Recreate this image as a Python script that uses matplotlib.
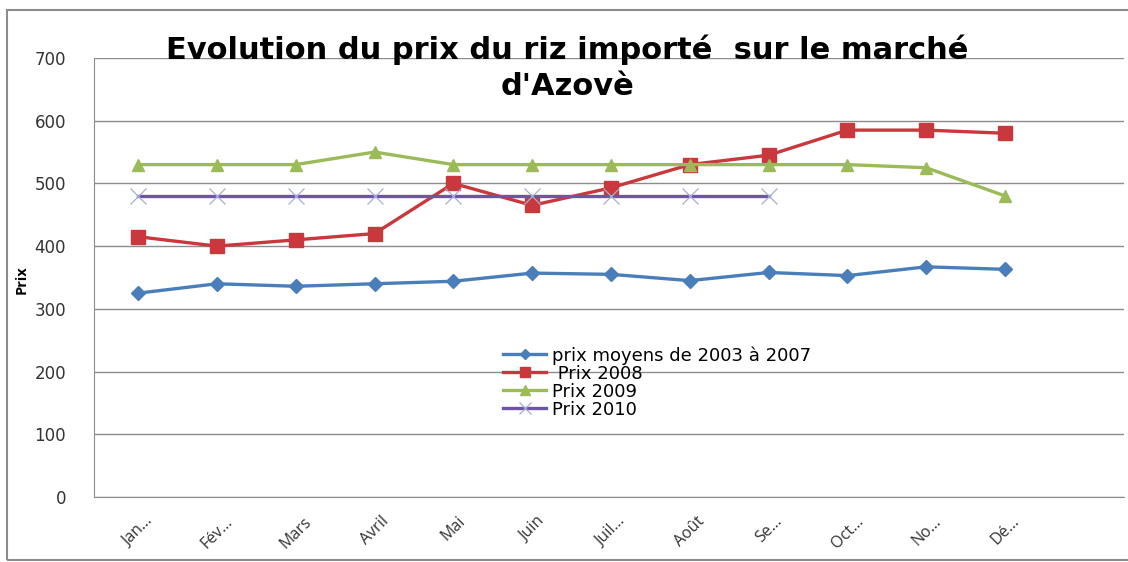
import matplotlib.pyplot as plt
from matplotlib.patches import Rectangle

# data
mois = ["Jan…", "Fév…", "Mars", "Avril", "Mai", "Juin", "Juil…", "Août", "Se…", "Oct…", "No…", "Dé…"]
prix_moyens = [325, 340, 336, 340, 344, 357, 355, 345, 358, 353, 367, 363]
prix_2008 = [415, 400, 410, 420, 500, 465, 493, 530, 545, 585, 585, 580]
prix_2009 = [530, 530, 530, 550, 530, 530, 530, 530, 530, 530, 525, 480]
prix_2010 = [480, 480, 480, 480, 480, 480, 480, 480, 480]

plt.rcParams['font.family'] = ['Open Sans', 'DejaVu Sans']

fig = plt.figure(figsize=(11.28, 5.62), dpi=100)
ax = fig.add_axes([0.0833, 0.1157, 0.9132, 0.7811])

x = list(range(len(mois)))
ax.plot(x, prix_moyens, color='#4A7EBB', lw=2.4, marker='D', ms=7, label='prix moyens de 2003 à 2007')
ax.plot(x, prix_2008, color='#C8383C', lw=2.4, marker='s', ms=10, label=' Prix 2008')
ax.plot(x, prix_2009, color='#9BBB59', lw=2.4, marker='^', ms=9, label='Prix 2009')
ax.plot(x[:len(prix_2010)], prix_2010, color='#6E54A8', lw=2.4, marker='x', ms=11,
        mec='#A8AED0', mew=0.9, label='Prix 2010')

ax.set_ylim(0, 700)
ax.set_yticks(range(0, 701, 100))
ax.set_xlim(-0.56, 12.51)
ax.set_xticks(x)
ax.set_xticklabels(mois, rotation=45, ha='center', fontsize=11.5, color='#333333')
for t in ax.get_yticklabels():
    t.set_family('DejaVu Sans')
ax.tick_params(axis='y', labelsize=12, colors='#333333', length=0, pad=20)
ax.tick_params(axis='x', length=0, pad=12)
ax.grid(axis='y', color='#8C8C8C', lw=1)
ax.set_axisbelow(True)
for s in ['top', 'right']:
    ax.spines[s].set_visible(False)
ax.spines['left'].set_color('#8C8C8C')
ax.spines['bottom'].set_color('#8C8C8C')

fig.text(22 / 1128, 1 - 280 / 562, 'Prix', rotation=90, ha='center', va='center',
         fontsize=10.5, fontweight='bold')

leg = ax.legend(loc='upper left', bbox_to_anchor=(0.39, 0.36), frameon=False,
                prop={'family': 'DejaVu Sans', 'size': 13},
                handlelength=2.4, handletextpad=0.3, labelspacing=0.0, borderaxespad=0,
                markerscale=0.75)

fig.text(0.503, 1 - 68 / 562, "Evolution du prix du riz importé  sur le marché\nd'Azovè",
         ha='center', va='center', fontsize=22, fontweight='bold', linespacing=1.3,
         family='DejaVu Sans')

# outer chart frame
fig.patches.append(Rectangle((0.006, 0.003), 0.995, 0.98, transform=fig.transFigure,
                             fill=False, ec='#8C8C8C', lw=1.5))

fig.savefig('out.png', dpi=100)
